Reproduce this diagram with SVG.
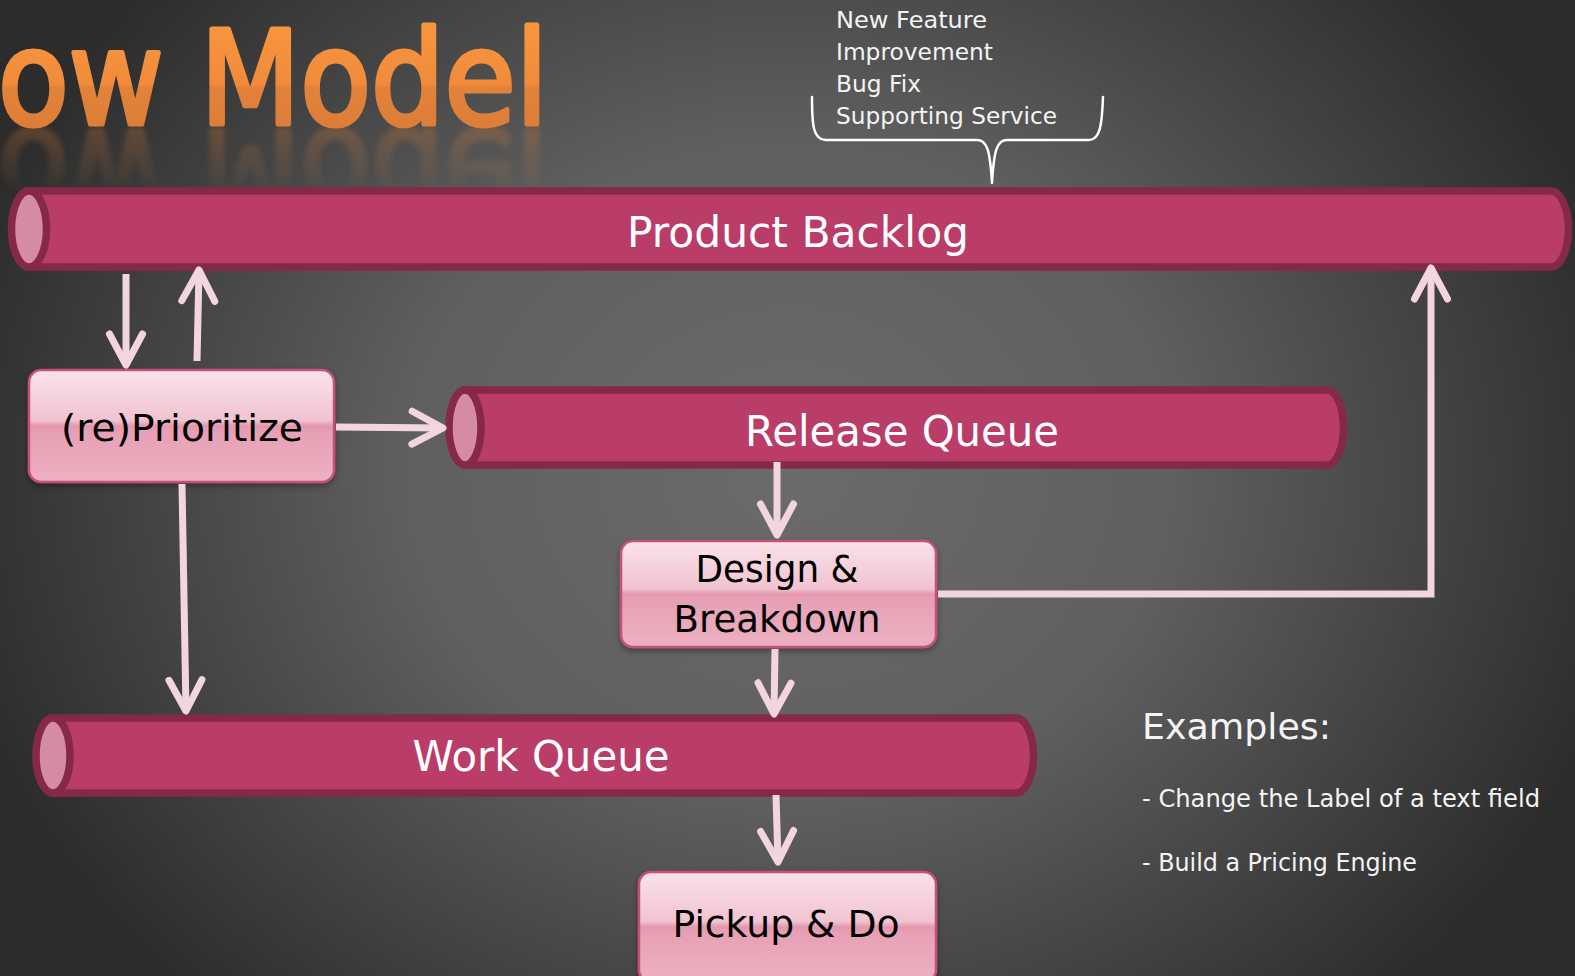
<svg xmlns="http://www.w3.org/2000/svg" width="1575" height="976" viewBox="0 0 1575 976">
<defs>
  <radialGradient id="bg" gradientUnits="userSpaceOnUse" cx="790" cy="470" r="860" gradientTransform="translate(790 470) scale(1 0.85) translate(-790 -470)">
    <stop offset="0" stop-color="#6b6b6b"/>
    <stop offset="0.45" stop-color="#5f5f5f"/>
    <stop offset="1" stop-color="#2c2c2c"/>
  </radialGradient>
  <linearGradient id="boxfill" x1="0" y1="0" x2="0" y2="1">
    <stop offset="0" stop-color="#FAE3EA"/>
    <stop offset="0.45" stop-color="#F1C3D1"/>
    <stop offset="0.5" stop-color="#E497AE"/>
    <stop offset="0.55" stop-color="#E7A0B5"/>
    <stop offset="1" stop-color="#EDB0C2"/>
  </linearGradient>
  <linearGradient id="titlefill" gradientUnits="userSpaceOnUse" x1="0" y1="25" x2="0" y2="125">
    <stop offset="0" stop-color="#F8953F"/>
    <stop offset="0.6" stop-color="#F18B3B"/>
    <stop offset="0.62" stop-color="#E3823A"/>
    <stop offset="1" stop-color="#DD7E38"/>
  </linearGradient>
  <linearGradient id="fade" gradientUnits="userSpaceOnUse" x1="0" y1="126" x2="0" y2="192">
    <stop offset="0" stop-color="#fff" stop-opacity="0.28"/>
    <stop offset="1" stop-color="#fff" stop-opacity="0"/>
  </linearGradient>
  <mask id="reflmask" maskUnits="userSpaceOnUse" x="0" y="120" width="600" height="80">
    <rect x="0" y="120" width="600" height="80" fill="url(#fade)"/>
  </mask>
  <filter id="shadow" x="-10%" y="-10%" width="120%" height="130%">
    <feDropShadow dx="0" dy="3" stdDeviation="3" flood-color="#000" flood-opacity="0.35"/>
  </filter>
  <filter id="blur" x="-5%" y="-20%" width="110%" height="140%">
    <feGaussianBlur stdDeviation="2.5"/>
  </filter>
  <marker id="chev" markerUnits="userSpaceOnUse" viewBox="-40 -24 48 48" markerWidth="48" markerHeight="48" refX="0" refY="0" orient="auto" overflow="visible">
    <path d="M-31,-16.5 L0,0 L-31,16.5" fill="none" stroke="#F3D5DF" stroke-width="7" stroke-linecap="round" stroke-linejoin="round"/>
  </marker>
  <style>
    .cyl { fill: #B93D68; stroke: #862848; stroke-width: 7.5; }
    .cap { fill: #D68BA5; stroke: #862848; stroke-width: 7.5; }
    .box { fill: url(#boxfill); stroke: #C8507A; stroke-width: 2.5; filter: url(#shadow); }
    .cyltxt { font-family: "DejaVu Sans", "Liberation Sans", sans-serif; font-size: 42px; fill: #FFFFFF; text-anchor: middle; }
    .boxtxt { font-family: "DejaVu Sans", "Liberation Sans", sans-serif; font-size: 38px; fill: #000000; text-anchor: middle; }
    .note { font-family: "DejaVu Sans", "Liberation Sans", sans-serif; font-size: 23px; fill: #F4F4F4; }
    .ex { font-family: "DejaVu Sans", "Liberation Sans", sans-serif; fill: #F4F4F4; }
    .conn { fill: none; stroke: #F3D5DF; stroke-width: 7; }
    .arr { marker-end: url(#chev); }
    .brace { fill: none; stroke: #FFFFFF; stroke-width: 2.5; stroke-linecap: round; stroke-linejoin: round; }
  </style>
</defs>

<rect x="0" y="0" width="1575" height="976" fill="url(#bg)"/>

<g id="title">
  <text id="titletext" x="-2" y="124" font-family="DejaVu Sans, Liberation Sans, sans-serif" font-size="130" fill="url(#titlefill)" stroke="url(#titlefill)" stroke-width="5" stroke-linejoin="round" textLength="550" lengthAdjust="spacingAndGlyphs">ow Model</text>
  <g mask="url(#reflmask)">
    <use href="#titletext" transform="translate(0 254) scale(1 -1)" filter="url(#blur)"/>
  </g>
</g>

<g id="types">
  <text class="note" x="836" y="28" textLength="151" lengthAdjust="spacingAndGlyphs">New Feature</text>
  <text class="note" x="836" y="60" textLength="157" lengthAdjust="spacingAndGlyphs">Improvement</text>
  <text class="note" x="836" y="92" textLength="85" lengthAdjust="spacingAndGlyphs">Bug Fix</text>
  <text class="note" x="836" y="124" textLength="221" lengthAdjust="spacingAndGlyphs">Supporting Service</text>
  <path class="brace" d="M812,97 C812,125 813,140 826,140 H977 C987,140 990,150 992,183 C994,150 997,140 1007,140 H1089 C1100,140 1102,125 1103,97"/>
</g>

<g id="product-backlog">
  <path class="cyl" d="M29,191 H1551 A17.5,38 0 0 1 1551,267 H29 Z"/>
  <ellipse class="cap" cx="29" cy="229" rx="17.5" ry="38"/>
  <text class="cyltxt" x="798" y="247" textLength="342" lengthAdjust="spacingAndGlyphs">Product Backlog</text>
</g>

<g id="release-queue">
  <path class="cyl" d="M465,390 H1327 A16.5,37.5 0 0 1 1327,465 H465 Z"/>
  <ellipse class="cap" cx="465" cy="427.5" rx="16" ry="37.5"/>
  <text class="cyltxt" x="902" y="446" textLength="314" lengthAdjust="spacingAndGlyphs">Release Queue</text>
</g>

<g id="work-queue">
  <path class="cyl" d="M53,718 H1016 A17.5,37.5 0 0 1 1016,793 H53 Z"/>
  <ellipse class="cap" cx="53" cy="755.5" rx="17" ry="37.5"/>
  <text class="cyltxt" x="541" y="771" textLength="257" lengthAdjust="spacingAndGlyphs">Work Queue</text>
</g>

<g id="reprioritize">
  <rect class="box" x="29" y="370" width="305" height="112" rx="12" ry="12"/>
  <text class="boxtxt" x="182" y="441" textLength="242" lengthAdjust="spacingAndGlyphs">(re)Prioritize</text>
</g>

<g id="design-breakdown">
  <rect class="box" x="621" y="541" width="315" height="106" rx="12" ry="12"/>
  <text class="boxtxt" x="777" y="582" textLength="163" lengthAdjust="spacingAndGlyphs">Design &amp;</text>
  <text class="boxtxt" x="777" y="632" textLength="207" lengthAdjust="spacingAndGlyphs">Breakdown</text>
</g>

<g id="pickup-do">
  <rect class="box" x="639" y="872" width="297" height="110" rx="12" ry="12"/>
  <text class="boxtxt" x="786" y="937" textLength="227" lengthAdjust="spacingAndGlyphs">Pickup &amp; Do</text>
</g>

<g id="examples">
  <text class="ex" x="1142" y="739" font-size="36" textLength="189" lengthAdjust="spacingAndGlyphs">Examples:</text>
  <text class="ex" x="1142" y="807" font-size="24" textLength="398" lengthAdjust="spacingAndGlyphs">- Change the Label of a text field</text>
  <text class="ex" x="1142" y="871" font-size="24" textLength="275" lengthAdjust="spacingAndGlyphs">- Build a Pricing Engine</text>
</g>

<g id="connectors">
  <path class="conn arr" d="M126,274 L126,365"/>
  <path class="conn arr" d="M197,361 L199,270"/>
  <path class="conn arr" d="M336,427 L443,428"/>
  <path class="conn arr" d="M182,484 L186,711"/>
  <path class="conn arr" d="M777,462 L777,535"/>
  <path class="conn arr" d="M775,649 L774,714"/>
  <path class="conn arr" d="M776,795 L778,862"/>
  <path class="conn arr" d="M938,594 H1431 V268" stroke-linejoin="miter"/>
</g>
</svg>
